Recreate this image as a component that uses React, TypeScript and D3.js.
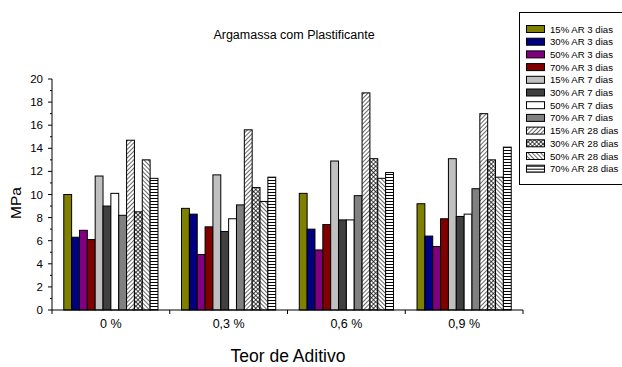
import React from "react";
import { scaleBand, scaleLinear, range } from "d3";

// categories and series
const grupos = ["0 %", "0,3 %", "0,6 %", "0,9 %"];
const series = [
  "15% AR 3 dias",
  "30% AR 3 dias",
  "50% AR 3 dias",
  "70% AR 3 dias",
  "15% AR 7 dias",
  "30% AR 7 dias",
  "50% AR 7 dias",
  "70% AR 7 dias",
  "15% AR 28 dias",
  "30% AR 28 dias",
  "50% AR 28 dias",
  "70% AR 28 dias",
];

// values per series, one per group
const ar15d3 = [10.0, 8.8, 10.1, 9.2];
const ar30d3 = [6.3, 8.3, 7.0, 6.4];
const ar50d3 = [6.9, 4.8, 5.2, 5.5];
const ar70d3 = [6.1, 7.2, 7.4, 7.9];
const ar15d7 = [11.6, 11.7, 12.9, 13.1];
const ar30d7 = [9.0, 6.8, 7.8, 8.1];
const ar50d7 = [10.1, 7.9, 7.8, 8.3];
const ar70d7 = [8.2, 9.1, 9.9, 10.5];
const ar15d28 = [14.7, 15.6, 18.8, 17.0];
const ar30d28 = [8.5, 10.6, 13.1, 13.0];
const ar50d28 = [13.0, 9.4, 11.4, 11.5];
const ar70d28 = [11.4, 11.5, 11.9, 14.1];

const valores = [
  ar15d3, ar30d3, ar50d3, ar70d3,
  ar15d7, ar30d7, ar50d7, ar70d7,
  ar15d28, ar30d28, ar50d28, ar70d28,
];

const fills = [
  "#808000", "#000080", "#800080", "#800000",
  "#C0C0C0", "#404040", "#FFFFFF", "#808080",
  "url(#diag)", "url(#cross)", "url(#back)", "url(#horiz)",
];

const font = "Arial, 'Liberation Sans', sans-serif";

export default function App() {
  const left = 52;
  const right = 523;
  const top = 79;
  const bottom = 310;

  // group scale and per-series scale
  const x0 = scaleBand<string>()
    .domain(grupos)
    .range([left, right])
    .paddingInner(0.2)
    .paddingOuter(0.1);
  const x1 = scaleBand<number>()
    .domain(range(series.length))
    .range([0, x0.bandwidth()]);
  const y = scaleLinear().domain([0, 20]).range([bottom, top]);

  const step = x0.step();
  const divisores = range(grupos.length + 1).map((i) => left + i * step);

  return (
    <svg
      width={622}
      height={367}
      style={{ position: "absolute", left: 0, top: 0, background: "#fff" }}
      fontFamily={font}
    >
      <defs>
        <pattern id="diag" width="3" height="3" patternUnits="userSpaceOnUse" patternTransform="rotate(45)">
          <rect width="3" height="3" fill="#fff" />
          <line x1="0" y1="0" x2="0" y2="3" stroke="#000" strokeWidth="1.2" />
        </pattern>
        <pattern id="back" width="3" height="3" patternUnits="userSpaceOnUse" patternTransform="rotate(-45)">
          <rect width="3" height="3" fill="#fff" />
          <line x1="0" y1="0" x2="0" y2="3" stroke="#000" strokeWidth="1.2" />
        </pattern>
        <pattern id="cross" width="3" height="3" patternUnits="userSpaceOnUse" patternTransform="rotate(45)">
          <rect width="3" height="3" fill="#fff" />
          <line x1="0" y1="0" x2="0" y2="3" stroke="#000" strokeWidth="1.4" />
          <line x1="0" y1="0" x2="3" y2="0" stroke="#000" strokeWidth="1.4" />
        </pattern>
        <pattern id="horiz" width="4" height="3" patternUnits="userSpaceOnUse">
          <rect width="4" height="3" fill="#fff" />
          <line x1="0" y1="0.5" x2="4" y2="0.5" stroke="#000" strokeWidth="1" />
        </pattern>
      </defs>

      {/* title */}
      <text x={294} y={39} textAnchor="middle" fontSize={12.5}>
        Argamassa com Plastificante
      </text>

      {/* bars */}
      {grupos.map((g, gi) => (
        <g key={g} transform={`translate(${x0(g)},0)`}>
          {valores.map((vals, si) => (
            <rect
              key={si}
              x={x1(si)}
              y={y(vals[gi])}
              width={x1.bandwidth()}
              height={y(0) - y(vals[gi])}
              fill={fills[si]}
              stroke="#000"
              strokeWidth={1}
            />
          ))}
        </g>
      ))}

      {/* y axis */}
      <line x1={left} x2={left} y1={top} y2={bottom} stroke="#000" />
      {y.ticks(20).map((t) => (
        <line
          key={`m${t}`}
          x1={t % 2 === 0 ? left - 4 : left - 2}
          x2={left}
          y1={y(t)}
          y2={y(t)}
          stroke="#000"
        />
      ))}
      {y.ticks(10).map((t) => (
        <text key={t} x={43} y={y(t) + 4} textAnchor="end" fontSize={11.5}>
          {t}
        </text>
      ))}
      <text
        transform={`translate(21,203) rotate(-90)`}
        textAnchor="middle"
        fontSize={15.5}
      >
        MPa
      </text>

      {/* x axis */}
      <line x1={left} x2={right} y1={bottom} y2={bottom} stroke="#000" />
      {divisores.map((d, i) => (
        <line key={i} x1={d} x2={d} y1={bottom} y2={bottom + 4} stroke="#000" />
      ))}
      {grupos.map((g) => (
        <text
          key={g}
          x={(x0(g) ?? 0) + x0.bandwidth() / 2}
          y={328}
          textAnchor="middle"
          fontSize={12.5}
        >
          {g}
        </text>
      ))}
      <text x={288} y={362} textAnchor="middle" fontSize={17.5}>
        Teor de Aditivo
      </text>

      {/* legend */}
      <rect x={519.5} y={12.5} width={120} height={172} fill="#fff" stroke="#000" />
      {series.map((s, i) => (
        <g key={s} transform={`translate(0,${29 + i * 12.7})`}>
          <rect x={526.5} y={-3.5} width={18} height={7} fill={fills[i]} stroke="#000" />
          <text x={550} y={3.5} fontSize={9.6}>
            {s}
          </text>
        </g>
      ))}
    </svg>
  );
}
